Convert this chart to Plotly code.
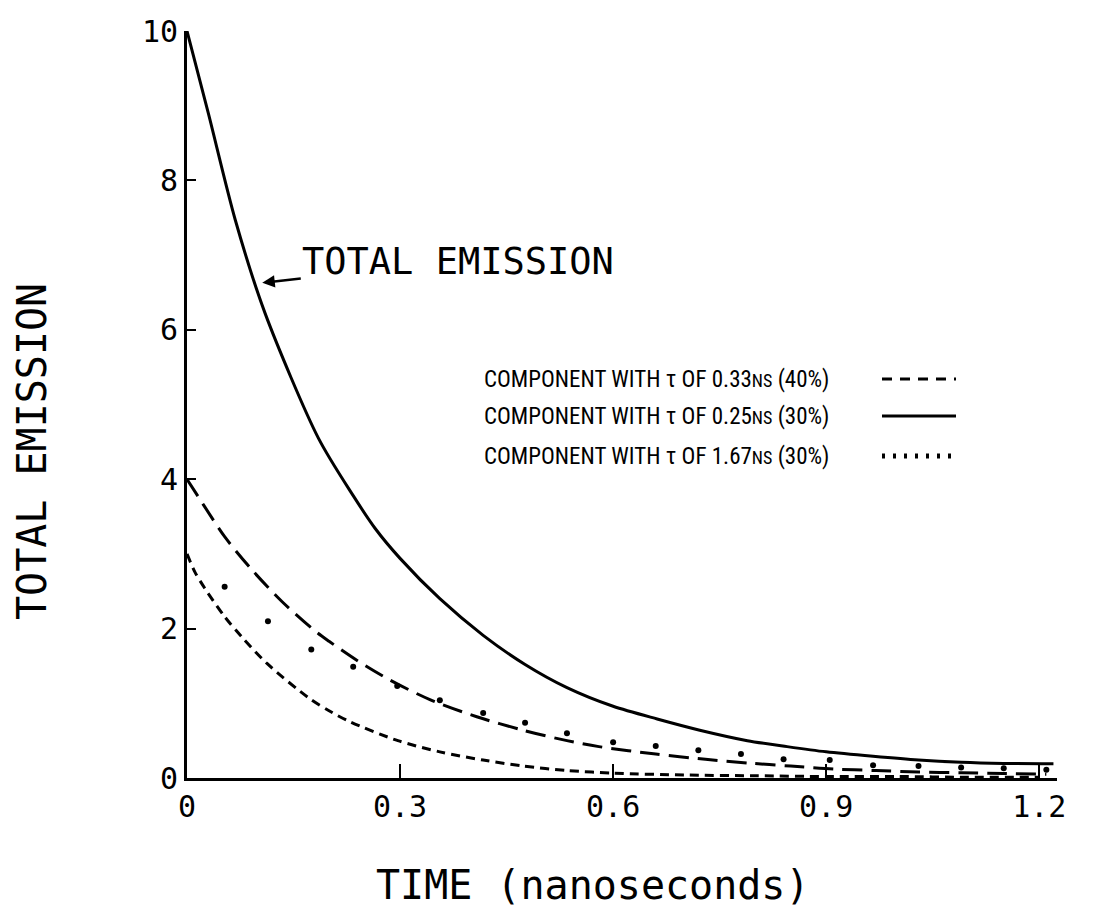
import plotly.graph_objects as go

# ---------------- data ----------------
total_x = [0.0, 0.03, 0.068, 0.11, 0.185, 0.234, 0.265, 0.30, 0.356, 0.417, 0.476,
           0.535, 0.60, 0.662, 0.722, 0.789, 0.845, 0.90, 0.966, 1.03, 1.09, 1.15, 1.22]
total_y = [10.0, 8.9, 7.47, 6.22, 4.55, 3.78, 3.34, 2.94, 2.40, 1.91, 1.52,
           1.21, 0.96, 0.79, 0.64, 0.50, 0.42, 0.35, 0.29, 0.24, 0.21, 0.195, 0.19]

long_x = [0.0, 0.023, 0.053, 0.092, 0.134, 0.18, 0.20, 0.24, 0.286, 0.342, 0.408,
          0.473, 0.535, 0.58, 0.66, 0.73, 0.79, 0.85, 0.91, 0.97, 1.03, 1.09, 1.15, 1.21]
long_y = [4.0, 3.66, 3.23, 2.78, 2.36, 1.97, 1.83, 1.57, 1.31, 1.05, 0.82,
          0.64, 0.50, 0.42, 0.32, 0.25, 0.20, 0.16, 0.12, 0.10, 0.08, 0.07, 0.06, 0.05]

short_x = [0.0, 0.011, 0.025, 0.053, 0.077, 0.113, 0.173, 0.20, 0.23, 0.297, 0.356,
           0.417, 0.473, 0.535, 0.60, 0.70, 0.80, 0.90, 1.0, 1.1, 1.2]
short_y = [3.0, 2.76, 2.54, 2.16, 1.89, 1.53, 1.06, 0.90, 0.75, 0.50, 0.35,
           0.24, 0.16, 0.10, 0.065, 0.04, 0.03, 0.02, 0.02, 0.01, 0.01]

dot_x = [0.053, 0.114, 0.175, 0.234, 0.296, 0.356, 0.417, 0.476, 0.535, 0.60,
         0.66, 0.72, 0.78, 0.84, 0.905, 0.966, 1.03, 1.09, 1.15, 1.21]
dot_y = [2.56, 2.10, 1.72, 1.49, 1.23, 1.04, 0.87, 0.74, 0.60, 0.48,
         0.43, 0.37, 0.32, 0.25, 0.24, 0.17, 0.16, 0.14, 0.13, 0.11]

x_tickvals = [0, 0.3, 0.6, 0.9, 1.2]
x_ticktext = ["0", "0.3", "0.6", "0.9", "1.2"]
y_tickvals = [0, 2, 4, 6, 8, 10]
y_ticktext = ["0", "2", "4", "6", "8", "10"]

legend_labels = [
    "COMPONENT WITH \u03c4 OF 0.33<span style='font-size:18px'>NS</span> (40%)",
    "COMPONENT WITH \u03c4 OF 0.25<span style='font-size:18px'>NS</span> (30%)",
    "COMPONENT WITH \u03c4 OF 1.67<span style='font-size:18px'>NS</span> (30%)",
]
legend_dashes = ["10px,8px", "solid", "3px,8px"]

MONO = "DejaVu Sans Mono, Liberation Mono, monospace"
NARROW = "Roboto Condensed, Liberation Sans Narrow, Roboto, sans-serif"

fig = go.Figure()
fig.add_trace(go.Scatter(x=total_x, y=total_y, mode="lines", line_shape="spline",
                         line=dict(color="black", width=3, smoothing=0.8),
                         name="TOTAL EMISSION"))
fig.add_trace(go.Scatter(x=long_x, y=long_y, mode="lines", line_shape="spline",
                         line=dict(color="black", width=3, dash="20px,9px", smoothing=0.8),
                         name="0.33ns"))
fig.add_trace(go.Scatter(x=short_x, y=short_y, mode="lines", line_shape="spline",
                         line=dict(color="black", width=3, dash="9px,6px", smoothing=0.8),
                         name="0.25ns"))
fig.add_trace(go.Scatter(x=dot_x, y=dot_y, mode="markers",
                         marker=dict(color="black", size=6), name="1.67ns"))

L, R, T, B = 187, 41, 31, 135
W, H = 1098, 913
pw, ph = W - L - R, H - T - B

def px_x(p):
    return (p - L) / pw

def px_y(p):
    return (H - B - p) / ph

annotations = []
legend_rows = [379, 416, 456]
for lab, row in zip(legend_labels, legend_rows):
    annotations.append(dict(xref="paper", yref="paper", x=px_x(482), y=px_y(row),
                            text=lab, showarrow=False, xanchor="left", yanchor="middle",
                            font=dict(family=NARROW, size=23, color="black")))

shapes = []
for dash, row in zip(legend_dashes, legend_rows):
    shapes.append(dict(type="line", xref="paper", yref="paper",
                       x0=px_x(882), x1=px_x(956), y0=px_y(row), y1=px_y(row),
                       line=dict(color="black", width=3 if dash != "3px,8px" else 5,
                                 dash=dash)))

annotations.append(dict(x=0.106, y=6.63, xref="x", yref="y", text="TOTAL EMISSION",
                        showarrow=True, ax=196, ay=-21, arrowhead=2, arrowsize=1,
                        arrowwidth=2.5, arrowcolor="black", standoff=0,
                        font=dict(family=MONO, size=37, color="black")))
annotations.append(dict(xref="paper", yref="paper", x=px_x(592), y=px_y(885),
                        xanchor="center", yanchor="middle",
                        text="TIME (nanoseconds)", showarrow=False,
                        font=dict(family=MONO, size=40, color="black")))
annotations.append(dict(xref="paper", yref="paper", x=px_x(32), y=px_y(452),
                        xanchor="center", yanchor="middle",
                        text="TOTAL EMISSION", showarrow=False, textangle=-90,
                        font=dict(family=MONO, size=40, color="black")))

fig.update_layout(
    width=W, height=H,
    margin=dict(l=L, r=R, t=T, b=B),
    paper_bgcolor="white", plot_bgcolor="white",
    showlegend=False,
    annotations=annotations, shapes=shapes,
    xaxis=dict(range=[0, 1.225], tickvals=x_tickvals, ticktext=x_ticktext,
               showgrid=False, zeroline=False, showline=True, linecolor="black",
               linewidth=3, ticks="inside", ticklen=14, tickwidth=2, tickcolor="black",
               tickfont=dict(family=MONO, size=30, color="black")),
    yaxis=dict(range=[0, 10], tickvals=y_tickvals, ticktext=y_ticktext,
               showgrid=False, zeroline=False, showline=True, linecolor="black",
               linewidth=3, ticks="inside", ticklen=9, tickwidth=2, tickcolor="black",
               tickfont=dict(family=MONO, size=30, color="black")),
)

fig.write_html("out.html")
